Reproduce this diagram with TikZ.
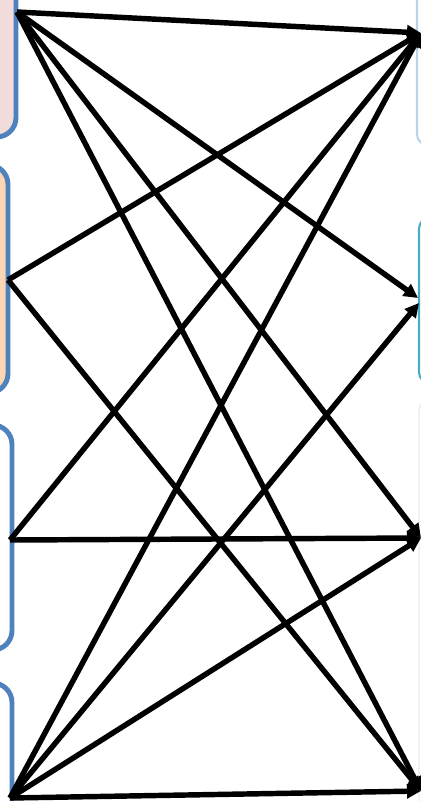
\documentclass[tikz,border=0pt]{standalone}
\usepackage{tikz}
\usetikzlibrary{arrows.meta,positioning}
\usepackage{xcolor}
\definecolor{boxblue}{HTML}{4F81BD}
\definecolor{pinkfill}{HTML}{F2DCDB}
\definecolor{peachfill}{HTML}{FCD5B5}
\definecolor{tealline}{HTML}{4BACC6}
\definecolor{paleline}{HTML}{B9D3E8}
\tikzset{
  srcbox/.style={rounded corners=11pt, draw=boxblue, line width=2.8pt,
                 inner sep=0pt, outer sep=0pt},
  dstbox/.style={rounded corners=6pt, line width=1.2pt, fill=white,
                 inner sep=0pt, outer sep=0pt},
  linkarr/.style={-{Triangle[length=2.8mm,width=2.8mm]}, draw=black, line width=3.1pt},
}
\begin{document}
\begin{tikzpicture}[x=0.02cm,y=-0.02cm]
\useasboundingbox (0,0) rectangle (421,801);
\node[srcbox, fill=pinkfill, minimum width=2.72cm, minimum height=3.94cm] (src1) at (-52,38.5) {};
\node[srcbox, fill=peachfill, minimum width=2.56cm, minimum height=4.56cm] (src2) at (-56,279) {};
\node[srcbox, fill=white, minimum width=2.64cm, minimum height=4.5cm] (src3) at (-54,537.5) {};
\node[srcbox, fill=white, minimum width=2.64cm, minimum height=5.34cm] (src4) at (-54,816.5) {};
\node[dstbox, draw=paleline, minimum width=2.86cm, minimum height=4.1cm] (dst1) at (488.5,42.5) {};
\node[dstbox, draw=tealline, minimum width=2.82cm, minimum height=3.3cm] (dst2) at (489.5,300.5) {};
\node[dstbox, draw=gray!10, minimum width=2.82cm, minimum height=8.4cm] (dst3) at (489.5,610) {};
% end points
\coordinate (a) at (17,12);
\coordinate (b) at (8,280);
\coordinate (c) at (10,540);
\coordinate (d) at (10,798);
\coordinate (t1) at (421,33);
\coordinate (t2a) at (418,298);
\coordinate (t2b) at (419,303);
\coordinate (t3) at (421,538);
\coordinate (t4) at (421,791);
\draw[linkarr] (a) -- (t1);
\draw[linkarr] (a) -- (t2a);
\draw[linkarr] (a) -- (t3);
\draw[linkarr] (a) -- (t4);
\draw[linkarr] (b) -- (t1);
\draw[linkarr] (b) -- (t4);
\draw[linkarr] (c) -- (t1);
\draw[linkarr] (c) -- (t3);
\draw[linkarr] (d) -- (t1);
\draw[linkarr] (d) -- (t2b);
\draw[linkarr] (d) -- (t3);
\draw[linkarr] (d) -- (t4);
\end{tikzpicture}
\end{document}
